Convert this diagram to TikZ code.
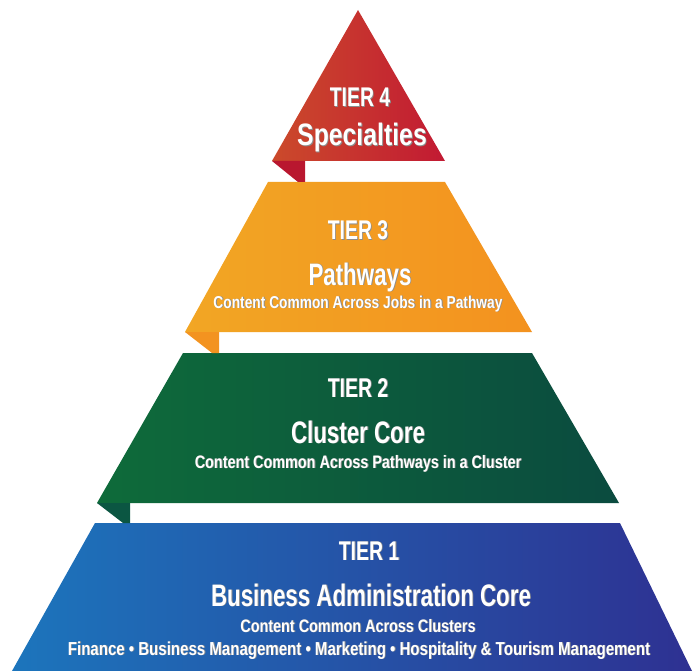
\documentclass[tikz,border=0pt]{standalone}
\usepackage{fontspec}
\setmainfont{Liberation Sans}[FakeStretch=0.8]
\newfontfamily\narrowfont{Liberation Sans}[FakeStretch=0.72]
\usetikzlibrary{positioning}

\definecolor{redL}{HTML}{CB4A2B}
\definecolor{redR}{HTML}{C21A33}
\definecolor{redTab}{HTML}{B9172F}
\definecolor{orangeL}{HTML}{F2A624}
\definecolor{orangeR}{HTML}{F3921F}
\definecolor{orangeTab}{HTML}{F39320}
\definecolor{greenL}{HTML}{0E6B3A}
\definecolor{greenR}{HTML}{0B4B3F}
\definecolor{greenTab}{HTML}{0B5642}
\definecolor{blueL}{HTML}{1C75BC}
\definecolor{blueR}{HTML}{2E3192}

% white lettering with a soft drop shadow
\newcommand{\shd}[1]{\makebox[0pt][l]{\color{black!45}\kern0.9pt\raisebox{-0.9pt}{#1}}#1}

\begin{document}
\begin{tikzpicture}[x=1pt,y=-1pt,
	tier no/.style={anchor=base,text=white,inner sep=0pt,font=\narrowfont\bfseries\fontsize{27}{28}\selectfont},
	tier name/.style={anchor=base,text=white,inner sep=0pt,font=\narrowfont\bfseries\fontsize{31}{32}\selectfont},
	tier note/.style={anchor=base,text=white,inner sep=0pt,font=\bfseries\fontsize{18}{19}\selectfont}]
	\useasboundingbox (0,0) rectangle (696,671);
	
	% tier 1 (base)
	\shade[left color=blueL, right color=blueR] (95,523) -- (620,523) -- (692,671) -- (12,671) -- cycle;
	% tier 2
	\shade[left color=greenL, right color=greenR] (183,353) -- (532,353) -- (619,503) -- (97,503) -- cycle;
	\fill[greenTab] (97,503) -- (130,503) -- (130,523) -- (123,523) -- cycle;
	% tier 3
	\shade[left color=orangeL, right color=orangeR] (268,182) -- (445,182) -- (532,332) -- (185,332) -- cycle;
	\fill[orangeTab] (185,332) -- (219,332) -- (219,353) -- (212,353) -- cycle;
	% tier 4 (top)
	\shade[left color=redL, right color=redR] (358,10) -- (445,161) -- (272,161) -- cycle;
	\fill[redTab] (272,161) -- (305,161) -- (305,182) -- (298,182) -- cycle;
	
	% labels
	\node[tier no]   (t4)  at (360,107) {\shd{TIER 4}};
	\node[tier name, font=\bfseries\fontsize{31}{32}\selectfont] (t4n) at (362,146) {\shd{Specialties}};
	
	\node[tier no]   (t3)  at (358,240) {\shd{TIER 3}};
	\node[tier name] (t3n) at (360,285) {\shd{Pathways}};
	\node[tier note, font=\bfseries\fontsize{17.2}{18}\selectfont] (t3c) at (358,308) {\shd{Content Common Across Jobs in a Pathway}};
	
	\node[tier no]   (t2)  at (358,397) {\shd{TIER 2}};
	\node[tier name] (t2n) at (358,443) {\shd{Cluster Core}};
	\node[tier note] (t2c) at (358,468) {\shd{Content Common Across Pathways in a Cluster}};
	
	\node[tier no]   (t1)  at (369,560) {\shd{TIER 1}};
	\node[tier name] (t1n) at (371,606) {\shd{Business Administration Core}};
	\node[tier note] (t1c) at (358,632) {\shd{Content Common Across Clusters}};
	\node[tier note, font=\bfseries\fontsize{18.8}{19}\selectfont] (t1f) at (359,655) {\shd{Finance \textbullet{} Business Management \textbullet{} Marketing \textbullet{} Hospitality \& Tourism Management}};
\end{tikzpicture}
\end{document}
